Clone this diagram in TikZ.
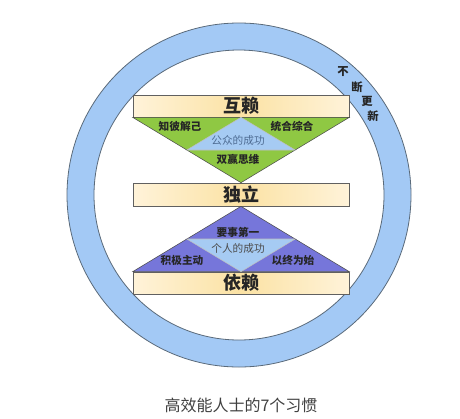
\documentclass[tikz,border=0pt]{standalone}
\usepackage{fontspec}
\newfontfamily\cjk{Noto Sans CJK SC}
\usetikzlibrary{calc,positioning}
\definecolor{ringc}{HTML}{A3C9F5}
\definecolor{linec}{HTML}{5A6A7A}
\definecolor{greenc}{HTML}{8FC843}
\definecolor{purpc}{HTML}{7676DA}
\definecolor{skyc}{HTML}{A6CBF3}
\definecolor{barl}{HTML}{FFF3D9}
\definecolor{barm}{HTML}{FBE2A4}
\definecolor{wintxt}{HTML}{4E6C93}
\tikzset{
  bar/.style={draw=gray!75!black,line width=0.5pt,left color=barl,right color=barl,middle color=barm,
    minimum width=162pt,minimum height=16.5pt,inner sep=0pt,font=\cjk\bfseries\fontsize{13.5}{14}\selectfont,text=black!85},
  tri/.style={draw=gray!60!black,line width=0.4pt},
  lbl/.style={font=\cjk\bfseries\fontsize{8}{9}\selectfont,text=black!85,inner sep=1pt},
  win/.style={font=\cjk\fontsize{8}{9}\selectfont,inner sep=1pt},
  renew/.style={font=\cjk\bfseries\fontsize{8.5}{9}\selectfont,text=black!85,inner sep=0pt}
}
\begin{document}
\begin{tikzpicture}[x=0.75pt,y=-0.75pt]
\useasboundingbox (0,0) rectangle (460,418);
% ring
\fill[ringc,even odd rule] (239,195) circle (129pt) (239,195) circle (108.75pt);
\draw[linec,line width=0.6pt] (239,195) circle (129pt);
\draw[linec,line width=0.6pt] (239,195) circle (108.75pt);
% bars
\node[bar] (hulai) at (241,106) {互赖};
\node[bar,minimum height=17.25pt] (duli) at (241,194.5) {独立};
\node[bar] (yilai) at (241,283) {依赖};
% upper triangle
\coordinate (ga) at (hulai.south west);
\coordinate (gb) at (hulai.south east);
\coordinate (gc) at (duli.north);
\fill[greenc] (ga) -- (gb) -- (gc) -- cycle;
\draw[tri] (ga) -- (gb) -- (gc) -- cycle;
\fill[skyc] ($(ga)!0.5!(gb)$) -- ($(gb)!0.5!(gc)$) -- ($(ga)!0.5!(gc)$) -- cycle;
\draw[tri,gray!50] ($(ga)!0.5!(gb)$) -- ($(gb)!0.5!(gc)$) -- ($(ga)!0.5!(gc)$) -- cycle;
% lower triangle
\coordinate (pa) at (yilai.north west);
\coordinate (pb) at (yilai.north east);
\coordinate (pc) at (duli.south);
\fill[purpc] (pa) -- (pb) -- (pc) -- cycle;
\draw[tri] (pa) -- (pb) -- (pc) -- cycle;
\fill[skyc] ($(pa)!0.5!(pb)$) -- ($(pb)!0.5!(pc)$) -- ($(pa)!0.5!(pc)$) -- cycle;
\draw[tri,gray!50] ($(pa)!0.5!(pb)$) -- ($(pb)!0.5!(pc)$) -- ($(pa)!0.5!(pc)$) -- cycle;
% labels
\node[lbl] (zhibi) at (180,126) {知彼解己};
\node[lbl] (tonghe) at (292,126) {统合综合};
\node[win,text=wintxt] (gongzhong) at (238,140) {公众的成功};
\node[lbl] (shuangying) at (238,159) {双赢思维};
\node[lbl] (yaoshi) at (238,232) {要事第一};
\node[win,text=black!70] (geren) at (238,248) {个人的成功};
\node[lbl] (jiji) at (182,260) {积极主动};
\node[lbl] (yizhong) at (293,260) {以终为始};
% renewal
\foreach \ch/\px/\py [count=\i] in {不/343/72,断/357/87,更/367/101,新/373/116}
  \node[renew] (renew\i) at (\px,\py) {\ch};
\node[font=\cjk\fontsize{12}{14}\selectfont,text=black!75] (caption) at (241,405) {高效能人士的7个习惯};
\end{tikzpicture}
\end{document}
